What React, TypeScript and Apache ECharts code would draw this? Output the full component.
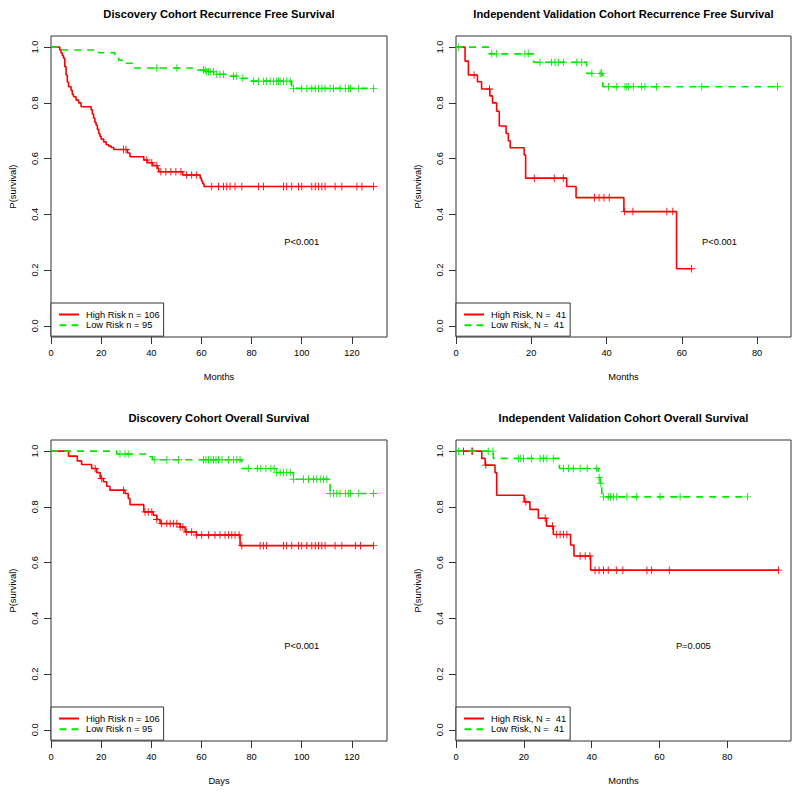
import React, { useEffect, useRef } from 'react';
import * as echarts from 'echarts';

const FONT = '"Liberation Sans", Arial, Helvetica, sans-serif';
const RED = '#ff0000';
const GREEN = '#00e800';

// ---------- Panel titles / labels ----------
const titles = [
  'Discovery Cohort Recurrence Free Survival',
  'Independent Validation Cohort Recurrence Free Survival',
  'Discovery Cohort Overall Survival',
  'Independent Validation Cohort Overall Survival',
];
const xNames = ['Months', 'Months', 'Days', 'Months'];
const highNames = ['High Risk n = 106', 'High Risk, N =  41', 'High Risk n = 106', 'High Risk, N =  41'];
const lowNames = ['Low Risk n = 95', 'Low Risk, N =  41', 'Low Risk n = 95', 'Low Risk, N =  41'];
const pTexts = ['P<0.001', 'P<0.001', 'P<0.001', 'P=0.005'];
const pPos = [[100, 0.3], [70, 0.3], [100, 0.3], [70, 0.3]];
const xTicks = [
  [0, 20, 40, 60, 80, 100, 120],
  [0, 20, 40, 60, 80],
  [0, 20, 40, 60, 80, 100, 120],
  [0, 20, 40, 60, 80],
];
const xMax = [134, 89, 134, 98.8];
const yTicks = [0, 0.2, 0.4, 0.6, 0.8, 1.0];

// ---------- Panel 1: Discovery RFS ----------
const discRfsHighT = [3.5, 4, 4.5, 5, 5.5, 6, 6.5, 7, 8, 8.5, 9, 10, 11, 12, 16, 16.5, 17, 17.5, 18, 18.5, 19, 19.5, 20, 21, 22, 23, 24, 25, 30.5, 31.5, 37, 38.5, 40.5, 42.5, 43, 52.5, 59.5, 60, 60.5, 61];
const discRfsHighS = [0.99, 0.98, 0.97, 0.96, 0.93, 0.9, 0.875, 0.858, 0.845, 0.83, 0.822, 0.81, 0.8, 0.786, 0.775, 0.76, 0.745, 0.73, 0.72, 0.705, 0.69, 0.68, 0.67, 0.66, 0.65, 0.645, 0.64, 0.633, 0.62, 0.607, 0.595, 0.585, 0.575, 0.565, 0.553, 0.541, 0.53, 0.52, 0.51, 0.5];
const discRfsHighC = [28.9, 29.9, 38.2, 40.2, 42.2, 43.8, 45.8, 47.8, 49.8, 51.8, 54.1, 56.1, 58.1, 64.1, 66.8, 68.8, 70.1, 71.4, 73.4, 76.1, 82.7, 84.7, 92.7, 94.0, 96.0, 98.7, 100.0, 104.0, 105.4, 106.7, 108.0, 109.3, 113.3, 116.0, 122.0, 124.0, 128.6];
const discRfsLowT = [4, 19, 25.5, 27, 29, 32.8, 58, 62, 65, 71.4, 75.4, 78.7, 96];
const discRfsLowS = [0.99, 0.98, 0.965, 0.953, 0.942, 0.925, 0.918, 0.912, 0.903, 0.896, 0.888, 0.878, 0.852];
const discRfsLowC = [42.2, 50.2, 60.8, 61.5, 62.1, 62.8, 63.5, 64.8, 66.1, 67.4, 68.8, 72.8, 74.1, 76.5, 80.7, 82.7, 84.7, 86.0, 87.4, 88.7, 90.0, 90.7, 91.4, 92.7, 94.0, 95.4, 96.7, 100.0, 102.0, 104.0, 105.4, 106.7, 108.0, 109.3, 111.3, 112.7, 115.3, 117.4, 118.7, 119.4, 122.7, 128.6];

// ---------- Panel 2: Independent RFS ----------
const indRfsHighT = [2.4, 3.3, 5.7, 6.8, 9.0, 9.7, 10.8, 11.5, 13.3, 13.9, 14.4, 18.1, 18.5, 29.4, 31.9, 44.6, 58.6];
const indRfsHighS = [0.95, 0.9, 0.876, 0.85, 0.825, 0.8, 0.77, 0.717, 0.69, 0.664, 0.639, 0.613, 0.53, 0.5, 0.46, 0.41, 0.205];
const indRfsHighC = [4.8, 8.9, 20.8, 26.1, 28.5, 36.8, 38.0, 39.3, 40.7, 44.8, 47.0, 56.0, 57.6, 62.6];
const indRfsLowT = [8.9, 20.6, 34.7, 39.0];
const indRfsLowS = [0.976, 0.946, 0.906, 0.858];
const indRfsLowC = [0.7, 9.5, 10.8, 18.3, 19.2, 22.3, 25.4, 26.3, 27.2, 28.5, 32.1, 33.4, 36.1, 38.3, 38.7, 40.5, 42.7, 44.9, 45.4, 45.8, 47.1, 49.3, 50.2, 53.3, 65.3, 85.4];

// ---------- Panel 3: Discovery OS ----------
const discOsHighT = [7, 10.5, 12.2, 16.2, 18.2, 19.6, 20.9, 22.2, 23.5, 29.5, 30.8, 31.5, 37, 40.8, 42.2, 43.5, 51.5, 53.5, 58, 75.4];
const discOsHighS = [0.982, 0.965, 0.952, 0.938, 0.923, 0.902, 0.89, 0.874, 0.86, 0.848, 0.83, 0.808, 0.782, 0.77, 0.755, 0.74, 0.728, 0.71, 0.699, 0.661];
const discOsHighC = [17.6, 20.2, 28.9, 37.5, 38.8, 40.2, 42.2, 44.1, 46.2, 47.5, 48.8, 50.2, 51.5, 52.6, 54.1, 56.1, 58.1, 60.1, 62.8, 65.4, 67.4, 69.4, 70.8, 72.1, 73.4, 75.0, 76.1, 83.4, 84.7, 86.0, 92.7, 94.0, 96.0, 98.7, 100.0, 102.0, 104.0, 105.4, 106.7, 108.0, 109.3, 113.3, 116.0, 121.4, 123.4, 128.6];
const discOsLowT = [26.2, 38.8, 40.5, 76.1, 89.4, 96.7, 111.3];
const discOsLowS = [0.99, 0.98, 0.969, 0.938, 0.923, 0.899, 0.848];
const discOsLowC = [27.5, 29.5, 30.8, 41.4, 46.2, 50.8, 60.8, 61.8, 62.8, 63.8, 64.8, 65.8, 66.8, 68.2, 70.8, 72.8, 74.1, 75.4, 78.7, 82.3, 83.7, 85.7, 87.7, 89.0, 90.0, 91.4, 92.7, 94.0, 95.4, 96.7, 100.7, 102.7, 104.7, 106.0, 107.4, 108.7, 110.0, 111.3, 112.7, 114.0, 115.3, 117.4, 118.7, 119.4, 122.7, 128.6];

// ---------- Panel 4: Independent OS ----------
const indOsHighT = [7.6, 8.6, 11.5, 12.0, 20.1, 21.8, 24.3, 26.7, 28.7, 33.8, 34.8, 39.7];
const indOsHighS = [0.974, 0.95, 0.923, 0.842, 0.818, 0.791, 0.759, 0.731, 0.701, 0.663, 0.624, 0.573];
const indOsHighC = [2.2, 4.9, 8.8, 20.6, 26.3, 28.5, 29.7, 30.7, 31.7, 32.7, 36.6, 38.1, 39.5, 41.0, 42.2, 43.5, 44.9, 47.4, 49.2, 56.3, 57.7, 62.9, 95.1];
const indOsLowT = [11.0, 30.5, 42.0, 42.5, 43.0];
const indOsLowS = [0.974, 0.938, 0.905, 0.885, 0.836];
const indOsLowC = [0.7, 4.6, 9.5, 10.9, 18.4, 19.1, 19.9, 22.3, 24.8, 25.8, 26.8, 28.7, 31.7, 33.2, 34.6, 36.6, 38.7, 41.5, 42.2, 42.7, 43.5, 44.9, 45.6, 46.4, 47.4, 50.4, 53.3, 60.2, 66.1, 86.0];

const panels = [
  { hT: discRfsHighT, hS: discRfsHighS, hC: discRfsHighC, lT: discRfsLowT, lS: discRfsLowS, lC: discRfsLowC },
  { hT: indRfsHighT, hS: indRfsHighS, hC: indRfsHighC, lT: indRfsLowT, lS: indRfsLowS, lC: indRfsLowC },
  { hT: discOsHighT, hS: discOsHighS, hC: discOsHighC, lT: discOsLowT, lS: discOsLowS, lC: discOsLowC },
  { hT: indOsHighT, hS: indOsHighS, hC: indOsHighC, lT: indOsLowT, lS: indOsLowS, lC: indOsLowC },
];

// layout
const gridRects = [
  { left: 51, top: 36, width: 336, height: 301 },
  { left: 456, top: 36, width: 335, height: 301 },
  { left: 51, top: 440, width: 336, height: 301 },
  { left: 456, top: 440, width: 335, height: 301 },
];

const PLUS = 'path://M0,4.4H10V5.6H0Z M4.4,0H5.6V10H4.4Z';
const ICON_SOLID = 'path://M0,0H20V2H0Z';
const ICON_DASH = 'path://M0,0H7V2H0Z M12,0H19V2H12Z';

function stepData(t: number[], s: number[], c: number[]) {
  const d: number[][] = [[0, 1]];
  for (let i = 0; i < t.length; i++) d.push([t[i], s[i]]);
  const end = Math.max(t[t.length - 1], c.length ? c[c.length - 1] : 0);
  d.push([end, s[s.length - 1]]);
  return d;
}
function survAt(t: number[], s: number[], x: number) {
  let v = 1;
  for (let i = 0; i < t.length; i++) if (t[i] <= x) v = s[i];
  return v;
}
function censData(t: number[], s: number[], c: number[]) {
  return c.map((x) => [x, survAt(t, s, x)]);
}

function buildOption() {
  const grid: any[] = [];
  const xAxis: any[] = [];
  const yAxis: any[] = [];
  const series: any[] = [];
  const legend: any[] = [];
  const title: any[] = [];
  const small = { fontFamily: FONT, fontSize: 9.3, color: '#000' };

  panels.forEach((p, i) => {
    const g = gridRects[i];
    grid.push({
      ...g,
      show: true,
      borderColor: '#333',
      borderWidth: 1,
      backgroundColor: 'transparent',
      containLabel: false,
      outerBoundsMode: 'none',
    });
    xAxis.push({
      gridIndex: i,
      type: 'value',
      min: 0,
      max: xMax[i],
      name: xNames[i],
      nameLocation: 'middle',
      nameGap: 35,
      nameTextStyle: small,
      axisLine: { show: false, onZero: false },
      axisTick: { show: true, length: 7, customValues: xTicks[i], lineStyle: { color: '#333', width: 1 } },
      axisLabel: { show: true, margin: 11, customValues: xTicks[i], ...small, formatter: (v: number) => String(v) },
      splitLine: { show: false },
    });
    yAxis.push({
      gridIndex: i,
      type: 'value',
      min: -0.04,
      max: 1.04,
      name: 'P(survival)',
      nameLocation: 'middle',
      nameGap: 34,
      nameRotate: 90,
      nameTextStyle: small,
      axisLine: { show: false, onZero: false },
      axisTick: { show: true, length: 7, customValues: yTicks, lineStyle: { color: '#333', width: 1 } },
      axisLabel: { show: true, margin: 12, rotate: 90, customValues: yTicks, ...small, formatter: (v: number) => v.toFixed(1) },
      splitLine: { show: false },
    });
    title.push({
      text: titles[i],
      left: g.left + g.width / 2,
      top: g.top - 28,
      textAlign: 'center',
      padding: 0,
      textStyle: { fontFamily: FONT, fontSize: 11.2, fontWeight: 'bold', color: '#000' },
    });
    legend.push({
      data: [
        { name: highNames[i], icon: ICON_SOLID },
        { name: lowNames[i], icon: ICON_DASH },
      ],
      left: g.left,
      top: g.top + g.height - 34,
      orient: 'vertical',
      padding: [7, 4, 6.5, 8],
      itemGap: 1.7,
      itemWidth: 20,
      itemHeight: 2,
      borderColor: '#333',
      borderWidth: 1,
      borderRadius: 0,
      backgroundColor: '#fff',
      selectedMode: false,
      textStyle: { ...small, padding: [0, 0, 0, 2] },
    });
    series.push({
      type: 'line',
      name: highNames[i],
      xAxisIndex: i,
      yAxisIndex: i,
      step: 'end',
      symbol: 'none',
      showSymbol: false,
      silent: true,
      data: stepData(p.hT, p.hS, p.hC),
      lineStyle: { color: RED, width: 1.6, type: 'solid' },
      itemStyle: { color: RED },
      z: 2,
      markPoint: {
        symbol: 'circle',
        symbolSize: 1,
        itemStyle: { color: 'rgba(0,0,0,0)' },
        silent: true,
        label: { show: true, position: 'inside', formatter: pTexts[i], ...small },
        data: [{ coord: pPos[i] }],
      },
    });
    series.push({
      type: 'scatter',
      name: 'High censored ' + (i + 1),
      xAxisIndex: i,
      yAxisIndex: i,
      symbol: PLUS,
      symbolSize: 7.5,
      silent: true,
      data: censData(p.hT, p.hS, p.hC),
      itemStyle: { color: RED, opacity: 1 },
      z: 3,
    });
    series.push({
      type: 'line',
      name: lowNames[i],
      xAxisIndex: i,
      yAxisIndex: i,
      step: 'end',
      symbol: 'none',
      showSymbol: false,
      silent: true,
      data: stepData(p.lT, p.lS, p.lC),
      lineStyle: { color: GREEN, width: 1.6, type: [7, 6] },
      itemStyle: { color: GREEN },
      z: 4,
    });
    series.push({
      type: 'scatter',
      name: 'Low censored ' + (i + 1),
      xAxisIndex: i,
      yAxisIndex: i,
      symbol: PLUS,
      symbolSize: 7.5,
      silent: true,
      data: censData(p.lT, p.lS, p.lC),
      itemStyle: { color: GREEN, opacity: 1 },
      z: 5,
    });
  });

  return {
    animation: false,
    backgroundColor: '#fff',
    textStyle: { fontFamily: FONT },
    title,
    legend,
    grid,
    xAxis,
    yAxis,
    series,
  };
}

export default function App() {
  const ref = useRef<HTMLDivElement>(null);
  useEffect(() => {
    if (!ref.current) return;
    const chart = echarts.init(ref.current, null, { renderer: 'svg' });
    chart.setOption(buildOption() as any);
    return () => chart.dispose();
  }, []);
  return <div ref={ref} style={{ position: 'fixed', left: 0, top: 0, width: 800, height: 795, background: '#fff' }} />;
}
